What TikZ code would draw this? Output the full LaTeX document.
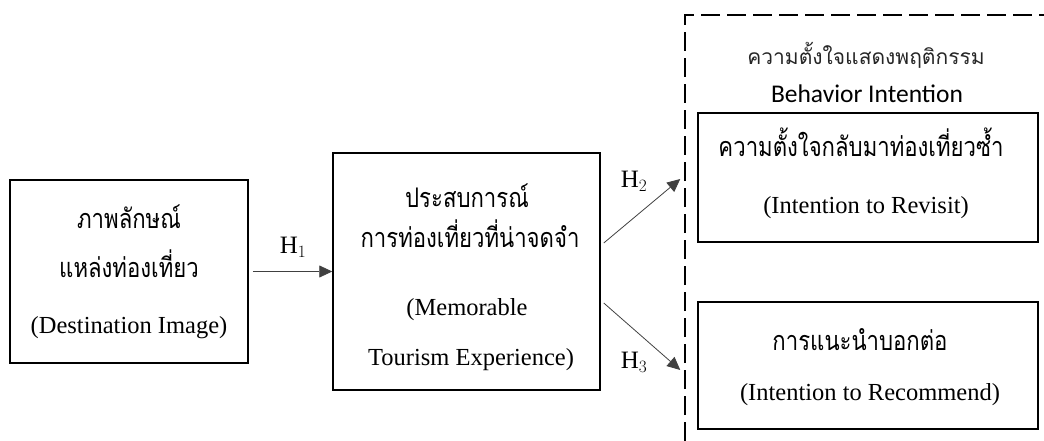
\documentclass[tikz,border=0pt]{standalone}
\usepackage{fontspec}
\setmainfont{Liberation Serif}
\newfontfamily\thai[Script=Thai]{Loma}
\newfontfamily\thaitall[Script=Thai,FakeStretch=0.82]{Loma}
\newfontfamily\calib{Carlito}
\usetikzlibrary{arrows.meta,calc}
\begin{document}
\begin{tikzpicture}[x=1pt,y=-1pt,
  box/.style={draw=black,line width=1.5pt,inner sep=0pt},
  arr/.style={draw=black!75,line width=0.8pt,-{Triangle[length=13pt,width=12pt]}},
  dashbox/.style={draw=black,line width=1.8pt,dash pattern=on 19pt off 7pt},
  th/.style={font=\thaitall\fontsize{27}{30}\selectfont,anchor=base,inner sep=0pt},
  en/.style={font=\fontsize{24.5}{28}\selectfont,anchor=base,inner sep=0pt},
  hl/.style={font=\fontsize{25}{28}\selectfont,inner sep=0pt}]
\useasboundingbox (0,0) rectangle (1044,441);
% dashed group frame
\coordinate (dBL) at (685,441);
\coordinate (dTL) at (685,15);
\coordinate (dTR) at (1044,15);
\draw[dashbox] (dBL) -- (dTL) -- (dTR);
% boxes
\node[box,minimum width=238pt,minimum height=183pt] (b1) at (129,271.5) {};
\node[box,minimum width=267pt,minimum height=237pt] (b2) at (466.5,271.5) {};
\node[box,minimum width=340pt,minimum height=129pt] (b3) at (868,177.5) {};
\node[box,minimum width=340pt,minimum height=127pt] (b4) at (868,365.5) {};
% texts box 1
\node[th] (t1a) at (129,228) {ภาพลักษณ์};
\node[th] (t1b) at (129,277) {แหล่งท่องเที่ยว};
\node[en] (t1c) at (129,333) {(Destination Image)};
% texts box 2
\node[th] (t2a) at (467,207) {ประสบการณ์};
\node[th] (t2b) at (470,247) {การท่องเที่ยวที่น่าจดจำ};
\node[en] (t2c) at (467,315) {(Memorable};
\node[en] (t2d) at (471,365) {Tourism Experience)};
% heading
\node[anchor=base,inner sep=0pt,font=\thai\fontsize{21}{24}\selectfont,text=black!85] (hd1) at (866,65) {ความตั้งใจแสดงพฤติกรรม};
\node[anchor=base,inner sep=0pt,font=\calib\fontsize{25.5}{28}\selectfont] (hd2) at (867,103) {Behavior Intention};
% box 3
\node[th] (t3a) at (861,157) {ความตั้งใจกลับมาท่องเที่ยวซ้ำ};
\node[en] (t3b) at (866,213) {(Intention to Revisit)};
% box 4
\node[th] (t4a) at (860,350) {การแนะนำบอกต่อ};
\node[en] (t4b) at (870,400) {(Intention to Recommend)};
% arrows
\draw[arr,shorten <=4pt] (b1.east) -- (b2.west);
\draw[arr] ($(b2.east)+(3,-28.5)$) -- ($(b3.west)+(-17,1.5)$);
\draw[arr] ($(b2.east)+(3,31.5)$) -- ($(b4.west)+(-17,4.5)$);
% hypothesis labels
\node[hl] (h1) at (293,247) {H$_1$};
\node[hl] (h2) at (634,181) {H$_2$};
\node[hl] (h3) at (634,362) {H$_3$};
\end{tikzpicture}
\end{document}
